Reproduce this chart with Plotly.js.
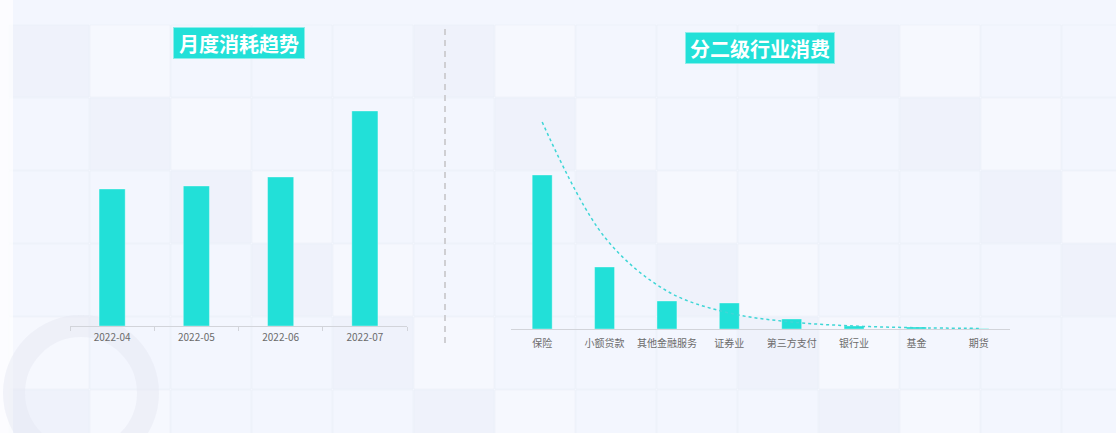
<!DOCTYPE html>
<html><head><meta charset="utf-8">
<script src="https://cdn.plot.ly/plotly-3.0.1.min.js"></script>
<style>html,body{margin:0;padding:0;background:#F3F6FE;}#chart{width:1116px;height:433px;}</style>
</head><body><div id="chart"></div>
<script>
// Left: monthly consumption
const months = ['2022-04', '2022-05', '2022-06', '2022-07'];
const monthlyValues = [137, 140, 149, 215];
// Right: consumption by secondary industry
const industries = ['保险', '小额贷款', '其他金融服务', '证券业', '第三方支付', '银行业', '基金', '期货'];
const industryValues = [154, 62, 28, 26, 10, 3, 2, 0.5];
const trendValues = [207, 92, 38, 16, 7, 3, 1.3, 0.6];

const barColor = '#22E0D8';
const tickFont = {family: '"Noto Sans CJK SC", "Noto Sans", sans-serif', size: 10, color: '#6b6b6b'};

const W = 1116, H = 433;
const px = x => x / W, py = y => 1 - y / H;

const traces = [
  {type: 'bar', x: months, y: monthlyValues, xaxis: 'x', yaxis: 'y', width: 0.31,
   marker: {color: barColor, line: {color: 'rgba(255,255,255,0.35)', width: 1}}, hoverinfo: 'x+y'},
  {type: 'bar', x: industries, y: industryValues, xaxis: 'x2', yaxis: 'y2', width: 0.32,
   marker: {color: barColor, line: {color: 'rgba(255,255,255,0.35)', width: 1}}, hoverinfo: 'x+y'},
  {type: 'scatter', mode: 'lines', x: industries, y: trendValues, xaxis: 'x2', yaxis: 'y2',
   line: {color: '#3FD6D6', width: 1.5, dash: 'dot', shape: 'spline', smoothing: 1}, hoverinfo: 'skip'}
];

// background tiles (decorative, very faint)
const tiles = [];
const tileW = 81, tileH = 73;
for (let i = 0; i < 14; i++) {
  for (let j = 0; j < 6; j++) {
    const x0 = 9 + i * tileW, y0 = 27 + j * tileH - 2;
    const shade = ((i * 7 + j * 3) % 5);
    const col = shade === 0 ? 'rgba(232,236,246,0.35)' : shade === 2 ? 'rgba(250,251,255,0.45)' : 'rgba(240,244,253,0.0)';
    tiles.push({type: 'rect', xref: 'paper', yref: 'paper', layer: 'below',
      x0: px(x0), x1: px(x0 + tileW - 1), y0: py(y0 + tileH - 1), y1: py(y0),
      fillcolor: col, line: {color: 'rgba(232,236,246,0.45)', width: 1}});
  }
}

const layout = {
  width: W, height: H,
  margin: {l: 0, r: 0, t: 0, b: 0},
  paper_bgcolor: '#F3F6FE',
  plot_bgcolor: 'rgba(0,0,0,0)',
  showlegend: false,
  font: {family: '"Noto Sans CJK SC", "Noto Sans", sans-serif'},
  xaxis: {domain: [px(70), px(407)], anchor: 'y', type: 'category', showgrid: false, zeroline: false,
    showline: true, linecolor: '#d2d4da', linewidth: 1, ticks: 'outside', tickson: 'boundaries',
    ticklen: 4, tickcolor: '#d2d4da', tickfont: tickFont, ticklabelstandoff: 2, fixedrange: true},
  yaxis: {domain: [py(326), py(100)], anchor: 'x', range: [0, 226], visible: false, fixedrange: true},
  xaxis2: {domain: [px(511), px(1010)], anchor: 'y2', type: 'category', showgrid: false, zeroline: false,
    showline: true, linecolor: '#d2d4da', linewidth: 1, ticks: '', tickfont: tickFont, ticklabelstandoff: 5, fixedrange: true},
  yaxis2: {domain: [py(329), py(100)], anchor: 'x2', range: [0, 229], visible: false, fixedrange: true},
  shapes: [
    ...tiles,
    {type: 'rect', xref: 'paper', yref: 'paper', layer: 'below', x0: 0, x1: px(13), y0: 0, y1: 1,
     fillcolor: 'rgba(255,255,255,0.7)', line: {width: 0}},
    {type: 'circle', xref: 'paper', yref: 'paper', layer: 'below',
     x0: px(14), x1: px(148), y0: py(460), y1: py(326),
     fillcolor: 'rgba(0,0,0,0)', line: {color: 'rgba(228,231,241,0.45)', width: 22}},
    {type: 'line', xref: 'paper', yref: 'paper', x0: px(445), x1: px(445), y0: py(343), y1: py(27),
     line: {color: '#cfcfd3', width: 2, dash: '6px,5px'}}
  ],
  annotations: [
    {xref: 'paper', yref: 'paper', x: px(238.5), y: py(43), xanchor: 'center', yanchor: 'middle',
     text: '<b>月度消耗趋势</b>', showarrow: false, font: {size: 20, color: '#ffffff'},
     bgcolor: barColor, bordercolor: '#8DEEEA', borderwidth: 1, borderpad: 2, width: 126, height: 26},
    {xref: 'paper', yref: 'paper', x: px(760), y: py(48), xanchor: 'center', yanchor: 'middle',
     text: '<b>分二级行业消费</b>', showarrow: false, font: {size: 20, color: '#ffffff'},
     bgcolor: barColor, bordercolor: '#8DEEEA', borderwidth: 1, borderpad: 2, width: 144, height: 26}
  ]
};

Plotly.newPlot('chart', traces, layout, {displayModeBar: false, staticPlot: true});
</script>
</body></html>
